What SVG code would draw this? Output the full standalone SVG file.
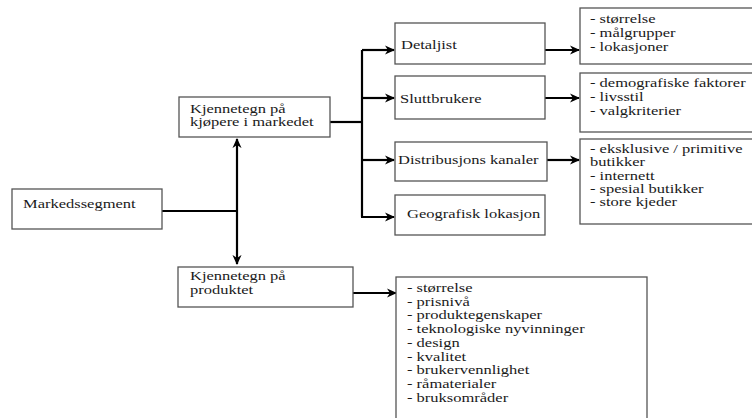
<svg xmlns="http://www.w3.org/2000/svg" width="752" height="418" viewBox="0 0 752 418">
  <style>
    .box { fill: #ffffff; stroke: #555555; stroke-width: 1.3; }
    .lbl { font-family: "Liberation Serif", "Times New Roman", serif; font-size: 12.5px; fill: #1a1a1a; }
    .wire { fill: none; stroke: #000000; stroke-width: 2.2; }
  </style>
  <defs>
    <marker id="arrow" viewBox="0 0 10 10" refX="9" refY="5" markerWidth="4.6" markerHeight="4.6" orient="auto-start-reverse" markerUnits="strokeWidth">
      <path d="M0,0.5 L10,5 L0,9.5 L3,5 Z" fill="#000000"/>
    </marker>
  </defs>

  <rect width="752" height="418" fill="#ffffff"/>

  <!-- connectors -->
  <g id="connectors">
    <path class="wire" d="M162,211 H237"/>
    <path class="wire" d="M237,139 V264" marker-start="url(#arrow)" marker-end="url(#arrow)"/>
    <path class="wire" d="M330,122 H362"/>
    <path class="wire" d="M362,50 V217"/>
    <path class="wire" d="M362,50 H394" marker-end="url(#arrow)"/>
    <path class="wire" d="M362,98 H394" marker-end="url(#arrow)"/>
    <path class="wire" d="M362,160 H394" marker-end="url(#arrow)"/>
    <path class="wire" d="M361,217 H394" marker-end="url(#arrow)"/>
    <path class="wire" d="M545,50 H579" marker-end="url(#arrow)"/>
    <path class="wire" d="M545,98 H579" marker-end="url(#arrow)"/>
    <path class="wire" d="M547,160 H579" marker-end="url(#arrow)"/>
    <path class="wire" d="M353,293 H396" marker-end="url(#arrow)"/>
  </g>

  <g id="markedssegment">
    <rect class="box" x="12" y="189" width="150" height="40"/>
    <text class="lbl" transform="translate(23,208) scale(1.32,1)">Markedssegment</text>
  </g>

  <g id="kjennetegn-kjopere">
    <rect class="box" x="179" y="97" width="151" height="40"/>
    <text class="lbl" transform="translate(190,113) scale(1.32,1)"><tspan x="0" y="0">Kjennetegn på</tspan><tspan x="0" y="13.5">kjøpere i markedet</tspan></text>
  </g>

  <g id="kjennetegn-produktet">
    <rect class="box" x="178" y="267" width="175" height="40"/>
    <text class="lbl" transform="translate(190,280) scale(1.32,1)"><tspan x="0" y="0">Kjennetegn på</tspan><tspan x="0" y="14.5">produktet</tspan></text>
  </g>

  <g id="detaljist">
    <rect class="box" x="395" y="23" width="150" height="41"/>
    <text class="lbl" transform="translate(401,49) scale(1.32,1)">Detaljist</text>
  </g>

  <g id="sluttbrukere">
    <rect class="box" x="395" y="76" width="150" height="43"/>
    <text class="lbl" transform="translate(400,103) scale(1.32,1)">Sluttbrukere</text>
  </g>

  <g id="distribusjons-kanaler">
    <rect class="box" x="395" y="142" width="152" height="39"/>
    <text class="lbl" transform="translate(398,164) scale(1.32,1)">Distribusjons kanaler</text>
  </g>

  <g id="geografisk-lokasjon">
    <rect class="box" x="395" y="195" width="150" height="40"/>
    <text class="lbl" transform="translate(407,218) scale(1.32,1)">Geografisk lokasjon</text>
  </g>

  <g id="detaljist-liste">
    <rect class="box" x="580" y="8" width="180" height="56"/>
    <text class="lbl" transform="translate(590,23) scale(1.32,1)"><tspan x="0" y="0">- størrelse</tspan><tspan x="0" y="14">- målgrupper</tspan><tspan x="0" y="28">- lokasjoner</tspan></text>
  </g>

  <g id="sluttbrukere-liste">
    <rect class="box" x="580" y="73" width="180" height="59"/>
    <text class="lbl" transform="translate(590,87) scale(1.32,1)"><tspan x="0" y="0">- demografiske faktorer</tspan><tspan x="0" y="14">- livsstil</tspan><tspan x="0" y="28">- valgkriterier</tspan></text>
  </g>

  <g id="distribusjon-liste">
    <rect class="box" x="580" y="139" width="180" height="85"/>
    <text class="lbl" transform="translate(590,153) scale(1.32,1)"><tspan x="0" y="0">- eksklusive / primitive</tspan><tspan x="0" y="13.3">butikker</tspan><tspan x="0" y="26.6">- internett</tspan><tspan x="0" y="39.9">- spesial butikker</tspan><tspan x="0" y="53.2">- store kjeder</tspan></text>
  </g>

  <g id="produkt-liste">
    <rect class="box" x="396" y="277" width="251" height="150"/>
    <text class="lbl" transform="translate(407,292) scale(1.32,1)"><tspan x="0" y="0">- størrelse</tspan><tspan x="0" y="13.75">- prisnivå</tspan><tspan x="0" y="27.5">- produktegenskaper</tspan><tspan x="0" y="41.25">- teknologiske nyvinninger</tspan><tspan x="0" y="55">- design</tspan><tspan x="0" y="68.75">- kvalitet</tspan><tspan x="0" y="82.5">- brukervennlighet</tspan><tspan x="0" y="96.25">- råmaterialer</tspan><tspan x="0" y="110">- bruksområder</tspan></text>
  </g>
</svg>
